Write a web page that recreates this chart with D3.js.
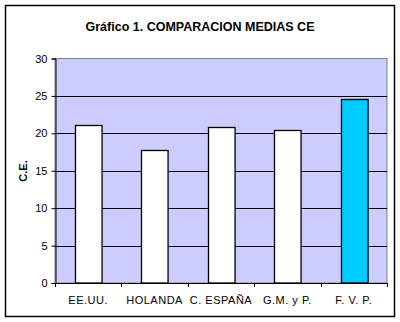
<!DOCTYPE html>
<html><head><meta charset="utf-8">
<script src="https://cdn.jsdelivr.net/npm/d3@7"></script>
<style>html,body{margin:0;padding:0;background:#fff}svg{display:block}</style>
</head><body>
<script>
const categories = ["EE.UU.", "HOLANDA", "C. ESPAÑA", "G.M. y P.", "F. V. P."];
const values = [21.1, 17.8, 20.8, 20.4, 24.6];
const barColors = ["#ffffff", "#ffffff", "#ffffff", "#ffffff", "#00ccff"];
const yTicks = [0, 5, 10, 15, 20, 25, 30];
const title = "Gráfico 1. COMPARACION MEDIAS CE";
const yLabel = "C.E.";

(function () {
const W = 400, H = 322;
const svg = d3.select("body").append("svg").attr("width", W).attr("height", H);
const font = "'Liberation Sans', Arial, sans-serif";

svg.append("rect").attr("x", 5.5).attr("y", 5.5).attr("width", 389).attr("height", 311)
  .attr("fill", "#fff").attr("stroke", "#000").attr("stroke-width", 1.5);

const pL = 55, pR = 387, pT = 58.5, pB = 283;
const x = d3.scaleBand().domain(categories).range([pL, pR]).paddingInner(0.6).paddingOuter(0.3);
const y = d3.scaleLinear().domain([0, 30]).range([pB, pT]);

svg.append("rect").attr("x", pL).attr("y", pT).attr("width", pR - pL).attr("height", pB - pT)
  .attr("fill", "#ccccff").attr("stroke", "#808080").attr("stroke-width", 1);

svg.append("g").selectAll("line").data(yTicks.filter(d => d > 0 && d < 30)).join("line")
  .attr("x1", pL).attr("x2", pR)
  .attr("y1", d => Math.round(y(d)) + 0.5).attr("y2", d => Math.round(y(d)) + 0.5)
  .attr("stroke", "#000").attr("stroke-width", 1);

svg.append("g").selectAll("rect").data(values).join("rect")
  .attr("x", (d, i) => Math.round(x(categories[i])) + 0.5)
  .attr("y", d => Math.round(y(d)) + 0.5)
  .attr("width", x.bandwidth())
  .attr("height", d => y(0) - Math.round(y(d)) - 0.5)
  .attr("fill", (d, i) => barColors[i])
  .attr("stroke", "#000").attr("stroke-width", 1.3);

const yAxis = d3.axisLeft(y).tickValues(yTicks).tickSize(4).tickPadding(4);
const gy = svg.append("g").attr("transform", `translate(${pL + 0.5},0)`).call(yAxis);
gy.selectAll("text").attr("font-family", font).attr("font-size", 11).attr("fill", "#000");
gy.selectAll("line, path").attr("stroke", "#000");

const xEdges = d3.range(0, categories.length + 1);
const bw = (pR - pL) / categories.length;
svg.append("line").attr("x1", pL).attr("x2", pR).attr("y1", pB + 0.5).attr("y2", pB + 0.5).attr("stroke", "#000");
svg.append("g").selectAll("line").data(xEdges).join("line")
  .attr("x1", d => Math.round(pL + d * bw) + 0.5).attr("x2", d => Math.round(pL + d * bw) + 0.5)
  .attr("y1", pB).attr("y2", pB + 4).attr("stroke", "#000");
svg.append("g").selectAll("text").data(categories).join("text")
  .attr("x", d => x(d) + x.bandwidth() / 2).attr("y", 304)
  .attr("text-anchor", "middle").attr("font-family", font).attr("font-size", 11)
  .attr("letter-spacing", 0.5)
  .text(d => d);

svg.append("text").attr("x", 200).attr("y", 31).attr("text-anchor", "middle")
  .attr("font-family", font).attr("font-size", 12.5).attr("font-weight", "bold").text(title);

svg.append("text").attr("transform", "translate(27,171) rotate(-90)").attr("text-anchor", "middle")
  .attr("font-family", font).attr("font-size", 11).attr("font-weight", "bold").text(yLabel);
})();
</script>
</body></html>
